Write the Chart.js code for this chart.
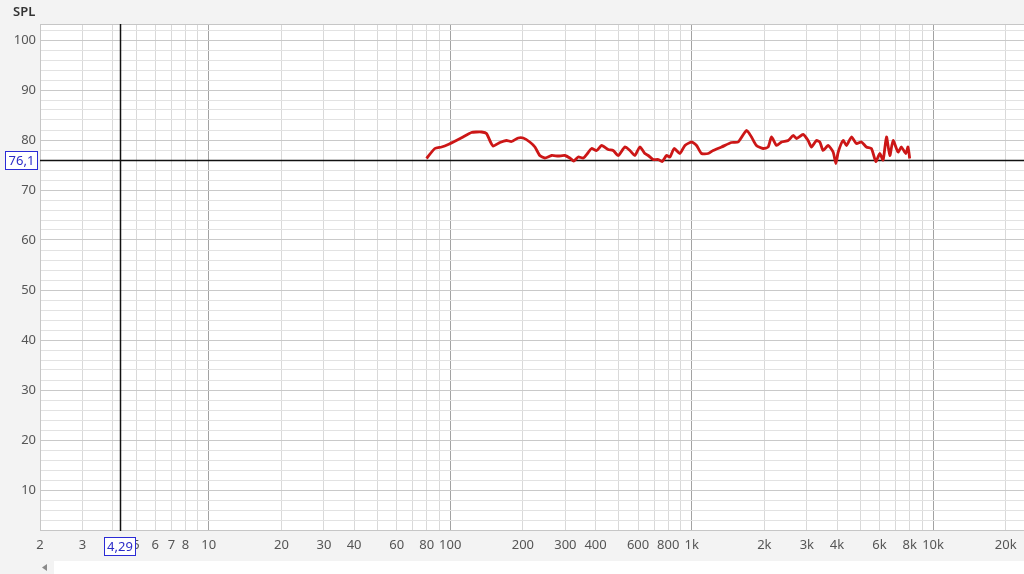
<!DOCTYPE html>
<html>
<head>
<meta charset="utf-8">
<script src="https://cdn.jsdelivr.net/npm/chart.js@4/dist/chart.umd.min.js"></script>
<style>
  html, body { margin: 0; padding: 0; background: #f3f3f3; }
  canvas { display: block; }
</style>
</head>
<body>
<canvas id="splChart" width="1024" height="574"></canvas>
<script>
const freqs = [79.8, 86.4, 92.1, 98.1, 106, 113, 122.5, 128.5, 134.9, 141.3, 146.9, 150.6, 160.6, 171, 179.4, 191.3,
  200.6, 213.6, 224.3, 235, 246.6, 263, 280, 298.5, 313, 325, 339, 356, 373, 385, 404, 424, 451, 473, 497, 529, 555,
  582, 610, 640, 661, 693, 727, 755, 787, 813, 847, 894, 938, 1000, 1048, 1099, 1170, 1228, 1330, 1463, 1559, 1688,
  1770, 1855, 1977, 2075, 2142, 2248, 2357, 2511, 2634, 2718, 2896, 3036, 3134, 3288, 3396, 3505, 3675, 3855, 3956,
  4047, 4240, 4378, 4592, 4815, 5050, 5296, 5554, 5794, 6013, 6208, 6411, 6619, 6830, 7161, 7393, 7705, 7873, 8000];
const spl = [76.3, 78.3, 78.6, 79.1, 79.9, 80.6, 81.5, 81.6, 81.6, 81.3, 79.6, 78.8, 79.5, 79.9, 79.7, 80.4,
  80.4, 79.6, 78.6, 76.9, 76.4, 76.9, 76.8, 76.9, 76.4, 75.8, 76.6, 76.4, 77.5, 78.3, 77.9, 78.9, 78.1, 77.9, 76.9, 78.6, 77.9,
  76.9, 78.6, 77.3, 76.9, 76.1, 76.1, 75.7, 76.9, 76.6, 78.3, 77.3, 78.9, 79.6, 78.9, 77.3, 77.3, 77.9, 78.6, 79.5, 79.6, 81.9,
  80.6, 78.9, 78.3, 78.6, 80.6, 78.9, 79.6, 79.9, 80.9, 80.3, 81.1, 79.9, 78.6, 79.9, 79.6, 77.9, 78.9, 77.6, 75.3,
  77.6, 79.9, 78.9, 80.6, 79.3, 79.6, 78.6, 78.3, 75.7, 77.3, 76.0, 80.6, 76.9, 79.9, 77.6, 78.6, 77.3, 78.6, 76.3];

const xTickValues = [2, 3, 4, 5, 6, 7, 8, 9, 10, 20, 30, 40, 50, 60, 70, 80, 90, 100, 200, 300, 400, 500, 600, 700, 800, 900,
  1000, 2000, 3000, 4000, 5000, 6000, 7000, 8000, 9000, 10000, 20000];
const xTickLabels = ['2', '3', '4', '5', '6', '7', '8', '', '10', '20', '30', '40', '', '60', '', '80', '', '100', '200', '300', '400', '',
  '600', '', '800', '', '1k', '2k', '3k', '4k', '', '6k', '', '8k', '', '10k', '20k'];
const yLabelValues = [10, 20, 30, 40, 50, 60, 70, 80, 90, 100];

const cursorFreq = 4.29, cursorSpl = 76.1;
const cursorFreqText = '4,29', cursorSplText = '76,1';

const yGridValues = [];
for (let v = 2; v <= 102; v += 2) yGridValues.push(v);

const isDecade = v => [10, 100, 1000, 10000].includes(v);
const tickFont = { family: 'Noto Sans', size: 13 };

function labelBox(ctx, text, x, y, w, h) {
  ctx.fillStyle = '#ffffff';
  ctx.fillRect(x, y, w, h);
  ctx.strokeStyle = '#2b2bd6';
  ctx.lineWidth = 1;
  ctx.strokeRect(x + 0.5, y + 0.5, w - 1, h - 1);
  ctx.fillStyle = '#2b2bc8';
  ctx.font = '13px "Noto Sans"';
  ctx.textAlign = 'center';
  ctx.textBaseline = 'middle';
  ctx.fillText(text, x + w / 2, y + h / 2 + 1);
}

const rewLook = {
  id: 'rewLook',
  beforeDraw(chart) {
    const { ctx, chartArea: a } = chart;
    ctx.save();
    ctx.fillStyle = '#f3f3f3';
    ctx.fillRect(0, 0, chart.width, chart.height);
    ctx.fillStyle = '#ffffff';
    ctx.fillRect(a.left, a.top, a.right - a.left, a.bottom - a.top);
    // scroll strip
    ctx.fillRect(54, 561, chart.width - 54, 13);
    ctx.fillStyle = '#8a8a8a';
    ctx.beginPath();
    ctx.moveTo(42, 567.5); ctx.lineTo(47, 564); ctx.lineTo(47, 571); ctx.closePath();
    ctx.fill();
    ctx.fillStyle = '#333';
    ctx.font = '600 13px "Noto Sans"';
    ctx.textAlign = 'left';
    ctx.textBaseline = 'middle';
    ctx.fillText('SPL', 13, 12);
    ctx.restore();
  },
  beforeDatasetsDraw(chart) {
    const { ctx, chartArea: a, scales } = chart;
    const cx = Math.round(scales.x.getPixelForValue(cursorFreq)) + 0.5;
    const cy = Math.round(scales.y.getPixelForValue(cursorSpl)) + 0.5;
    ctx.save();
    ctx.strokeStyle = '#c6c6c6';
    ctx.lineWidth = 1;
    ctx.strokeRect(a.left + 0.5, a.top + 0.5, a.right - a.left, a.bottom - a.top - 1);
    ctx.strokeStyle = '#111';
    ctx.lineWidth = 1.5;
    ctx.beginPath();
    ctx.moveTo(cx, a.top); ctx.lineTo(cx, a.bottom);
    ctx.moveTo(a.left, cy); ctx.lineTo(a.right, cy);
    ctx.stroke();
    ctx.restore();
  },
  afterDraw(chart) {
    const { ctx, chartArea: a, scales } = chart;
    const cx = scales.x.getPixelForValue(cursorFreq);
    const cy = scales.y.getPixelForValue(cursorSpl);
    ctx.save();
    labelBox(ctx, cursorSplText, 5, Math.round(cy) - 9, 33, 19);
    labelBox(ctx, cursorFreqText, Math.round(cx) - 16, a.bottom + 6, 32, 19);
    ctx.restore();
  }
};

const chart = new Chart(document.getElementById('splChart').getContext('2d'), {
  type: 'line',
  data: {
    datasets: [{
      data: freqs.map((f, i) => ({ x: f, y: spl[i] })),
      borderColor: '#cc1616',
      borderWidth: 2.8,
      pointRadius: 0,
      tension: 0.2,
      fill: false
    }]
  },
  options: {
    responsive: false,
    animation: false,
    layout: { padding: { top: 24, left: 0, right: 0, bottom: 0 } },
    scales: {
      x: {
        type: 'logarithmic',
        min: 2,
        max: 23800,
        afterBuildTicks: s => { s.ticks = xTickValues.map(v => ({ value: v })); },
        afterFit: s => { s.height = 43; },
        ticks: {
          autoSkip: false,
          maxRotation: 0,
          padding: 6,
          color: '#555',
          font: tickFont,
          callback: (v, i) => xTickLabels[i]
        },
        grid: {
          drawTicks: false,
          color: c => isDecade(c.tick.value) ? '#a2a2a2' : '#d9d9d9'
        },
        border: { display: false }
      },
      y: {
        min: 1.8,
        max: 103.2,
        afterBuildTicks: s => { s.ticks = yGridValues.map(v => ({ value: v })); },
        afterFit: s => { s.width = 40; },
        ticks: {
          autoSkip: false,
          padding: 4,
          color: '#555',
          font: tickFont,
          callback: v => yLabelValues.includes(v) ? String(v) : ''
        },
        grid: {
          drawTicks: false,
          color: c => yLabelValues.includes(c.tick.value) ? '#c9c9c9' : '#e2e2e2'
        },
        border: { display: false }
      }
    },
    plugins: {
      legend: { display: false },
      title: { display: false },
      tooltip: { enabled: false }
    }
  },
  plugins: [rewLook]
});
</script>
</body>
</html>
